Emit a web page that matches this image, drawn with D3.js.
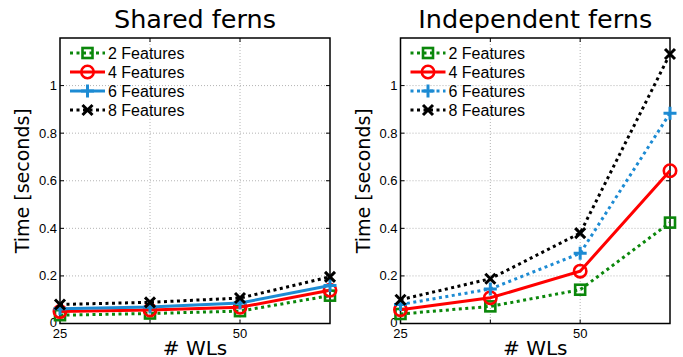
<!DOCTYPE html>
<html>
<head>
<meta charset="utf-8">
<script src="https://cdn.jsdelivr.net/npm/d3@7"></script>
<style>
  html, body { margin: 0; padding: 0; background: #fff; }
  svg { display: block; }
</style>
</head>
<body>
<svg id="chart" width="683" height="357"></svg>
<script>
// Number of weak learners on the x axis
const wlCounts = [25, 37.5, 50, 62.5];
const seriesNames = ["2 Features", "4 Features", "6 Features", "8 Features"];

// Timing (seconds), shared ferns
const shared2 = [0.035, 0.042, 0.052, 0.117];
const shared4 = [0.050, 0.057, 0.068, 0.140];
const shared6 = [0.062, 0.069, 0.086, 0.160];
const shared8 = [0.080, 0.089, 0.107, 0.196];

// Timing (seconds), independent ferns
const indep2 = [0.040, 0.072, 0.142, 0.424];
const indep4 = [0.058, 0.108, 0.220, 0.642];
const indep6 = [0.080, 0.145, 0.295, 0.884];
const indep8 = [0.100, 0.188, 0.380, 1.133];

// Axis ticks
const yTicks = [0, 0.2, 0.4, 0.6, 0.8, 1];
const yTickLabels = ["0", "0.2", "0.4", "0.6", "0.8", "1"];
const xTicks = [25, 50];
const xTickLabels = ["25", "50"];
const xGrid = [37.5, 50];

const svg = d3.select("#chart");

const colors = ["#0b870b", "#ff0000", "#1d8bd3", "#000000"];
const markers = ["square", "circle", "plus", "cross"];

function drawMarker(g, type, x, y, color) {
  if (type === "square") {
    g.append("rect").attr("x", x - 5).attr("y", y - 5).attr("width", 10).attr("height", 10)
      .attr("fill", "none").attr("stroke", color).attr("stroke-width", 2.6);
  } else if (type === "circle") {
    g.append("circle").attr("cx", x).attr("cy", y).attr("r", 6.2)
      .attr("fill", "none").attr("stroke", color).attr("stroke-width", 2.6);
  } else if (type === "plus") {
    g.append("path").attr("d", `M${x - 6.5},${y}H${x + 6.5}M${x},${y - 6.5}V${y + 6.5}`)
      .attr("stroke", color).attr("stroke-width", 3).attr("fill", "none");
  } else {
    g.append("path").attr("d", `M${x - 5},${y - 5}L${x + 5},${y + 5}M${x - 5},${y + 5}L${x + 5},${y - 5}`)
      .attr("stroke", color).attr("stroke-width", 3).attr("fill", "none");
  }
}

function drawPanel(opts) {
  const { left, right, title, data, dashed } = opts;
  const top = 38, bottom = 323.5;
  const x = d3.scaleLinear().domain([25, 62.5]).range([left, right]);
  const y = d3.scaleLinear().domain([0, 1.2]).range([bottom, top]);
  const g = svg.append("g");

  // grid
  g.append("g").selectAll("line").data(yTicks.slice(1)).join("line")
    .attr("x1", left).attr("x2", right)
    .attr("y1", d => y(d)).attr("y2", d => y(d))
    .attr("stroke", "#b4b4b4").attr("stroke-width", 1).attr("stroke-dasharray", "1,2");
  g.append("g").selectAll("line").data(xGrid).join("line")
    .attr("y1", top).attr("y2", bottom)
    .attr("x1", d => x(d)).attr("x2", d => x(d))
    .attr("stroke", "#b4b4b4").attr("stroke-width", 1).attr("stroke-dasharray", "1,2");

  // inward ticks on all four sides
  const tk = g.append("g").attr("stroke", "#000").attr("stroke-width", 1);
  yTicks.forEach(v => {
    tk.append("line").attr("x1", left).attr("x2", left + 4).attr("y1", y(v)).attr("y2", y(v));
    tk.append("line").attr("x1", right).attr("x2", right - 4).attr("y1", y(v)).attr("y2", y(v));
  });
  xGrid.forEach(v => {
    tk.append("line").attr("y1", bottom).attr("y2", bottom - 4).attr("x1", x(v)).attr("x2", x(v));
    tk.append("line").attr("y1", top).attr("y2", top + 4).attr("x1", x(v)).attr("x2", x(v));
  });

  // box
  g.append("rect").attr("x", left).attr("y", top).attr("width", right - left).attr("height", bottom - top)
    .attr("fill", "none").attr("stroke", "#000").attr("stroke-width", 1.5);

  // tick labels
  g.append("g").selectAll("text").data(yTicks).join("text")
    .attr("x", left - 3).attr("y", d => y(d) + (d === 0 ? 3 : 4.5))
    .attr("text-anchor", "end")
    .attr("font-family", "Liberation Sans, Arial, sans-serif").attr("font-size", 13)
    .text((d, i) => yTickLabels[i]);
  g.append("g").selectAll("text").data(xTicks).join("text")
    .attr("x", d => x(d)).attr("y", bottom + 14.5)
    .attr("text-anchor", "middle")
    .attr("font-family", "Liberation Sans, Arial, sans-serif").attr("font-size", 13)
    .text((d, i) => xTickLabels[i]);

  // titles and axis labels
  const cx = (left + right) / 2;
  g.append("text").attr("x", cx).attr("y", 28).attr("text-anchor", "middle")
    .attr("font-family", "DejaVu Sans, sans-serif").attr("font-size", 25.5).text(title);
  g.append("text").attr("x", cx).attr("y", 354.5).attr("text-anchor", "middle")
    .attr("font-family", "DejaVu Sans, sans-serif").attr("font-size", 20).text("# WLs");
  g.append("text")
    .attr("transform", `translate(${left - 31},${(top + bottom) / 2}) rotate(-90)`)
    .attr("text-anchor", "middle")
    .attr("font-family", "DejaVu Sans, sans-serif").attr("font-size", 19).text("Time [seconds]");

  // series
  const line = d3.line().x((d, i) => x(wlCounts[i])).y(d => y(d));
  data.forEach((vals, s) => {
    const sg = g.append("g");
    sg.append("path").attr("d", line(vals))
      .attr("fill", "none").attr("stroke", colors[s])
      .attr("stroke-width", 3)
      .attr("stroke-dasharray", dashed[s] ? "3,3.5" : null);
    vals.forEach((v, i) => drawMarker(sg, markers[s], x(wlCounts[i]), y(v), colors[s]));
  });

  // legend
  const lg = g.append("g");
  seriesNames.forEach((name, s) => {
    const ly = 53 + s * 19;
    lg.append("line").attr("x1", left + 10).attr("x2", left + 45).attr("y1", ly).attr("y2", ly)
      .attr("stroke", colors[s]).attr("stroke-width", 3)
      .attr("stroke-dasharray", dashed[s] ? "3,3.5" : null);
    drawMarker(lg, markers[s], left + 27.5, ly, colors[s]);
    lg.append("text").attr("x", left + 48).attr("y", ly + 6)
      .attr("font-family", "Liberation Sans, Arial, sans-serif").attr("font-size", 16)
      .text(name);
  });
}

drawPanel({
  left: 60, right: 330, title: "Shared ferns",
  data: [shared2, shared4, shared6, shared8],
  dashed: [true, false, false, true]
});
drawPanel({
  left: 400.5, right: 670, title: "Independent ferns",
  data: [indep2, indep4, indep6, indep8],
  dashed: [true, false, true, true]
});
</script>
</body>
</html>
